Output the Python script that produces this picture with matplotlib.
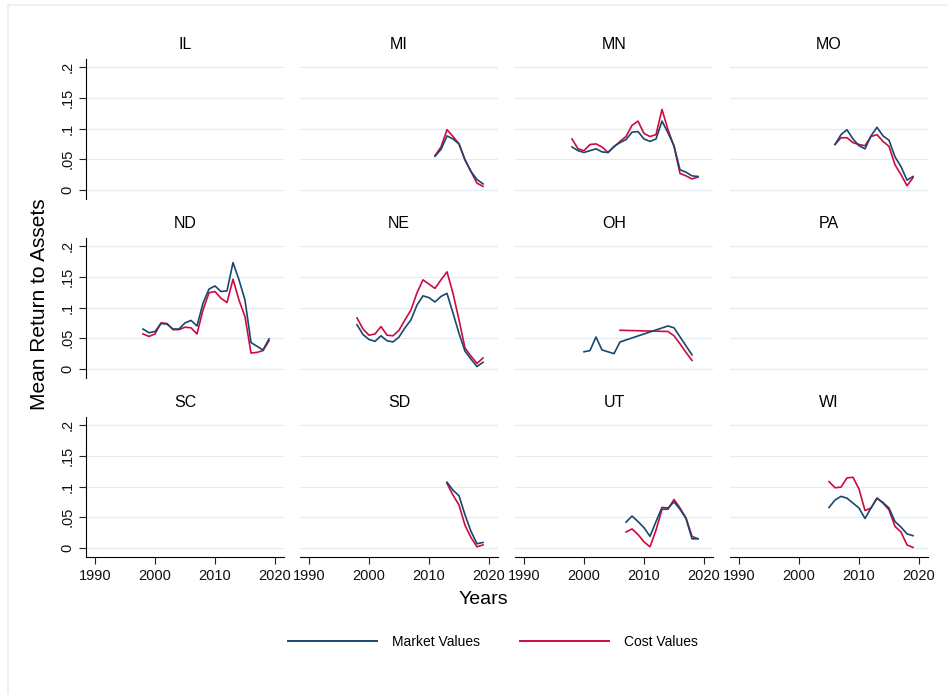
import matplotlib.pyplot as plt
from matplotlib.lines import Line2D
from matplotlib.patches import Rectangle

plt.rcParams['font.family'] = ['Liberation Sans', 'DejaVu Sans']

states = ["IL", "MI", "MN", "MO", "ND", "NE", "OH", "PA", "SC", "SD", "UT", "WI"]

# years and mean return to assets by state; missing years are simply absent
mi_years = list(range(2011, 2020))
mi_market = [0.055, 0.066, 0.088, 0.083, 0.075, 0.049, 0.030, 0.017, 0.010]
mi_cost = [0.056, 0.070, 0.098, 0.087, 0.075, 0.049, 0.030, 0.011, 0.006]

mn_years = list(range(1998, 2020))
mn_market = [0.070, 0.064, 0.061, 0.064, 0.067, 0.062, 0.061, 0.071, 0.077, 0.082,
             0.094, 0.095, 0.083, 0.079, 0.083, 0.112, 0.093, 0.072, 0.033, 0.029,
             0.023, 0.022]
mn_cost = [0.083, 0.067, 0.064, 0.074, 0.075, 0.070, 0.061, 0.070, 0.079, 0.087,
           0.105, 0.112, 0.092, 0.087, 0.090, 0.131, 0.098, 0.071, 0.027, 0.023,
           0.018, 0.021]

mo_years = list(range(2006, 2020))
mo_market = [0.074, 0.090, 0.098, 0.083, 0.072, 0.067, 0.088, 0.102, 0.088, 0.081,
             0.054, 0.038, 0.016, 0.022]
mo_cost = [0.074, 0.085, 0.085, 0.077, 0.074, 0.072, 0.087, 0.090, 0.079, 0.071,
           0.041, 0.025, 0.007, 0.020]

nd_years = list(range(1998, 2020))
nd_market = [0.065, 0.059, 0.061, 0.074, 0.073, 0.065, 0.065, 0.075, 0.079, 0.070,
             0.107, 0.130, 0.135, 0.126, 0.127, 0.173, 0.145, 0.112, 0.043, 0.037,
             0.031, 0.049]
nd_cost = [0.057, 0.053, 0.057, 0.075, 0.074, 0.064, 0.064, 0.068, 0.067, 0.057,
           0.096, 0.124, 0.126, 0.115, 0.108, 0.146, 0.112, 0.085, 0.026, 0.027,
           0.030, 0.046]

ne_years = list(range(1998, 2020))
ne_market = [0.072, 0.056, 0.048, 0.045, 0.054, 0.046, 0.044, 0.052, 0.067, 0.080,
             0.104, 0.119, 0.116, 0.109, 0.118, 0.123, 0.091, 0.058, 0.029, 0.016,
             0.004, 0.011]
ne_cost = [0.083, 0.065, 0.055, 0.057, 0.069, 0.055, 0.054, 0.063, 0.080, 0.096,
           0.124, 0.145, 0.138, 0.131, 0.145, 0.158, 0.123, 0.080, 0.034, 0.021,
           0.009, 0.018]

oh_market_years = [2000, 2001, 2002, 2003, 2005, 2006, 2014, 2015, 2018]
oh_market = [0.028, 0.030, 0.052, 0.031, 0.025, 0.044, 0.070, 0.067, 0.023]
oh_cost_years = [2006, 2014, 2015, 2016, 2017, 2018]
oh_cost = [0.063, 0.061, 0.054, 0.041, 0.027, 0.014]

sd_years = list(range(2013, 2020))
sd_market = [0.107, 0.094, 0.085, 0.054, 0.027, 0.007, 0.009]
sd_cost = [0.105, 0.086, 0.070, 0.037, 0.017, 0.002, 0.005]

ut_years = list(range(2007, 2020))
ut_market = [0.042, 0.052, 0.043, 0.033, 0.019, 0.043, 0.066, 0.065, 0.075, 0.063,
             0.048, 0.015, 0.015]
ut_cost = [0.026, 0.031, 0.022, 0.010, 0.002, 0.029, 0.063, 0.063, 0.079, 0.065,
           0.049, 0.019, 0.015]

wi_years = list(range(2005, 2020))
wi_market = [0.066, 0.078, 0.084, 0.081, 0.073, 0.065, 0.048, 0.065, 0.081, 0.074,
             0.065, 0.043, 0.034, 0.023, 0.020]
wi_cost = [0.108, 0.098, 0.099, 0.114, 0.115, 0.096, 0.061, 0.065, 0.081, 0.073,
           0.062, 0.035, 0.026, 0.005, 0.001]

series = {
    "MI": (mi_years, mi_market, mi_years, mi_cost),
    "MN": (mn_years, mn_market, mn_years, mn_cost),
    "MO": (mo_years, mo_market, mo_years, mo_cost),
    "ND": (nd_years, nd_market, nd_years, nd_cost),
    "NE": (ne_years, ne_market, ne_years, ne_cost),
    "OH": (oh_market_years, oh_market, oh_cost_years, oh_cost),
    "SD": (sd_years, sd_market, sd_years, sd_cost),
    "UT": (ut_years, ut_market, ut_years, ut_cost),
    "WI": (wi_years, wi_market, wi_years, wi_cost),
}

x_ticks = [1990, 2000, 2010, 2020]
y_ticks = [0, 0.05, 0.1, 0.15, 0.2]
y_tick_labels = ["0", ".05", ".1", ".15", ".2"]

navy = "#1a476f"
red = "#cc0b3e"
grid_col = "#e3ecf0"

W, H = 948, 694
fig = plt.figure(figsize=(W / 100, H / 100), dpi=100)

# faint outer border of the graph region (only top and left edges show)
fig.patches.append(Rectangle((8 / W, -0.05), 1.1, 1.05 - 5 / H, transform=fig.transFigure,
                             fill=False, edgecolor="#e8f0f3", linewidth=1.2))

col_left = [86, 300, 515, 730]
row_top = [59, 238, 417]
ax_w, ax_h = 198, 140

for i, st in enumerate(states):
    r, c = divmod(i, 4)
    left = col_left[c] / W
    bottom = 1 - (row_top[r] + ax_h) / H
    ax = fig.add_axes([left, bottom, ax_w / W, ax_h / H])
    ax.set_xlim(1988.5, 2021.5)
    ax.set_ylim(-0.0146, 0.213)
    for yt in y_ticks:
        ax.axhline(yt, color=grid_col, linewidth=0.9, zorder=0)
    if st in series:
        xm, ym, xc, yc = series[st]
        ax.plot(xm, ym, color=navy, linewidth=1.2, zorder=3)
        ax.plot(xc, yc, color=red, linewidth=1.2, zorder=2)
    ax.set_title(st, fontsize=11.5, pad=7)
    for sp in ax.spines.values():
        sp.set_visible(False)
    ax.set_xticks(x_ticks)
    ax.set_yticks(y_ticks)
    ax.tick_params(axis="both", length=5, width=0.8, color="#222222",
                   labelsize=10.5, labelcolor="#111111")
    if c == 0:
        ax.spines["left"].set_visible(True)
        ax.spines["left"].set_linewidth(0.8)
        ax.set_yticklabels(y_tick_labels, rotation=90, va="center")
    else:
        ax.tick_params(axis="y", left=False, labelleft=False)
    if r == 2:
        ax.spines["bottom"].set_visible(True)
        ax.spines["bottom"].set_linewidth(0.8)
    else:
        ax.tick_params(axis="x", bottom=False, labelbottom=False)

fig.text(40 / W, 1 - 304 / H, "Mean Return to Assets", rotation=90,
         ha="center", va="center", fontsize=15)
fig.text(483 / W, 1 - 600 / H, "Years", ha="center", va="center", fontsize=14)

handles = [Line2D([], [], color=navy, linewidth=1.4),
           Line2D([], [], color=red, linewidth=1.4)]
fig.legend(handles, ["Market Values", "Cost Values"], loc="center",
           bbox_to_anchor=(493 / W, 1 - 642 / H), ncol=2, frameon=False,
           fontsize=10, handlelength=6.4, handletextpad=1.1, columnspacing=2.9)

fig.savefig("out.png", dpi=100)
